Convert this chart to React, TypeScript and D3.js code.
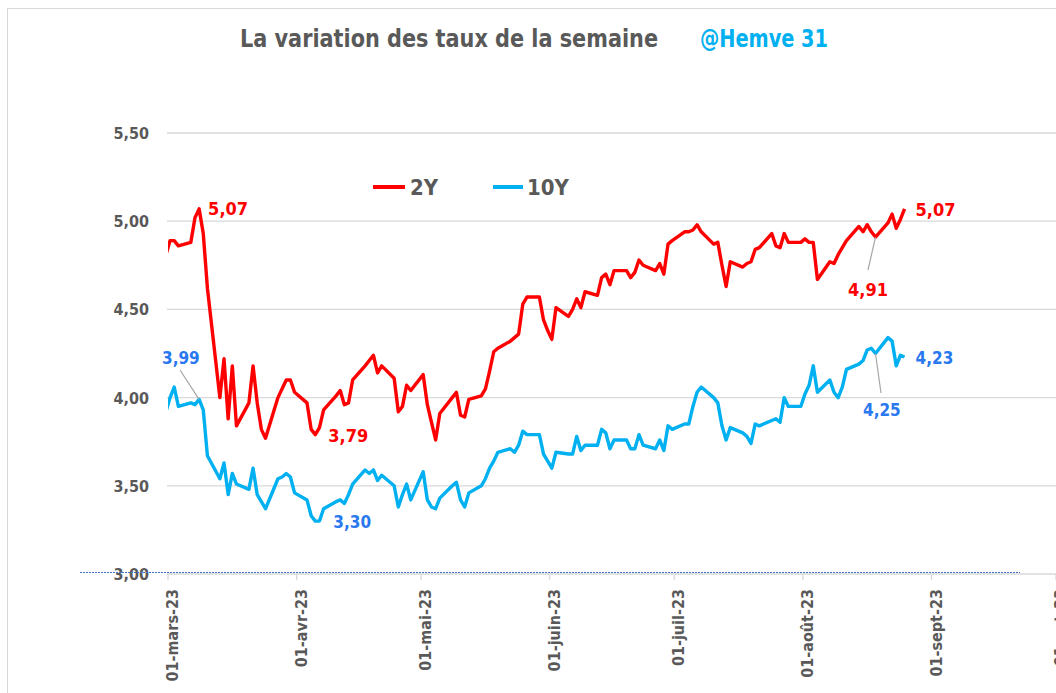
import * as d3 from 'd3';

// business days plotted (holidays kept, value carried over)
const febDays = [28];
const marDays = [1, 2, 3, 6, 7, 8, 9, 10, 13, 14, 15, 16, 17, 20, 21, 22, 23, 24, 27, 28, 29, 30, 31];
const aprDays = [3, 4, 5, 6, 7, 10, 11, 12, 13, 14, 17, 18, 19, 20, 21, 24, 25, 26, 27, 28];
const mayDays = [1, 2, 3, 4, 5, 8, 9, 10, 11, 12, 15, 16, 17, 18, 19, 22, 23, 24, 25, 26, 29, 30, 31];
const junDays = [1, 2, 5, 6, 7, 8, 9, 12, 13, 14, 15, 16, 19, 20, 21, 22, 23, 26, 27, 28, 29, 30];
const julDays = [3, 4, 5, 6, 7, 10, 11, 12, 13, 14, 17, 18, 19, 20, 21, 24, 25, 26, 27, 28, 31];
const augDays = [1, 2, 3, 4, 7, 8, 9, 10, 11, 14, 15, 16, 17, 18, 21, 22, 23, 24, 25];

// 2Y yields
const y2Feb = [4.81];
const y2Mar = [4.89, 4.89, 4.86, 4.88, 5.02, 5.07, 4.93, 4.62, 4.0, 4.22, 3.88, 4.18, 3.84, 3.97, 4.18, 3.97, 3.82, 3.77, 4.0, 4.05, 4.1, 4.1, 4.03];
const y2Apr = [3.97, 3.82, 3.79, 3.83, 3.93, 4.01, 4.04, 3.96, 3.97, 4.1, 4.18, 4.21, 4.24, 4.14, 4.18, 4.11, 3.92, 3.95, 4.07, 4.04];
const y2May = [4.13, 3.96, 3.86, 3.76, 3.91, 4.0, 4.03, 3.9, 3.89, 3.99, 4.01, 4.05, 4.15, 4.26, 4.28, 4.32, 4.34, 4.36, 4.53, 4.57, 4.57, 4.44, 4.38];
const y2Jun = [4.33, 4.51, 4.46, 4.5, 4.56, 4.51, 4.6, 4.58, 4.68, 4.7, 4.64, 4.72, 4.72, 4.68, 4.71, 4.78, 4.75, 4.72, 4.76, 4.7, 4.87, 4.89];
const y2Jul = [4.94, 4.94, 4.95, 4.98, 4.94, 4.87, 4.88, 4.75, 4.63, 4.77, 4.74, 4.76, 4.77, 4.84, 4.85, 4.93, 4.86, 4.85, 4.93, 4.88, 4.88];
const y2Aug = [4.9, 4.88, 4.88, 4.67, 4.77, 4.76, 4.81, 4.85, 4.89, 4.97, 4.94, 4.98, 4.94, 4.91, 4.99, 5.04, 4.96, 5.01, 5.07];

// 10Y yields
const y10Feb = [3.92];
const y10Mar = [4.0, 4.06, 3.95, 3.97, 3.96, 3.99, 3.93, 3.67, 3.54, 3.63, 3.45, 3.57, 3.51, 3.48, 3.6, 3.45, 3.41, 3.37, 3.54, 3.55, 3.57, 3.55, 3.46];
const y10Apr = [3.42, 3.33, 3.3, 3.3, 3.37, 3.41, 3.42, 3.4, 3.45, 3.51, 3.59, 3.57, 3.59, 3.53, 3.56, 3.5, 3.38, 3.45, 3.51, 3.42];
const y10May = [3.58, 3.42, 3.38, 3.37, 3.43, 3.5, 3.52, 3.42, 3.38, 3.46, 3.5, 3.54, 3.6, 3.64, 3.69, 3.71, 3.69, 3.73, 3.81, 3.79, 3.79, 3.68, 3.64];
const y10Jun = [3.6, 3.69, 3.68, 3.68, 3.78, 3.7, 3.73, 3.73, 3.82, 3.8, 3.71, 3.76, 3.76, 3.71, 3.71, 3.79, 3.73, 3.71, 3.76, 3.7, 3.84, 3.82];
const y10Jul = [3.85, 3.85, 3.95, 4.03, 4.06, 4.0, 3.97, 3.84, 3.76, 3.83, 3.8, 3.78, 3.74, 3.85, 3.84, 3.87, 3.88, 3.86, 4.0, 3.95, 3.95];
const y10Aug = [4.02, 4.07, 4.18, 4.03, 4.1, 4.03, 4.0, 4.06, 4.16, 4.19, 4.21, 4.27, 4.28, 4.25, 4.34, 4.32, 4.18, 4.24, 4.23];

const yTicks = [3.0, 3.5, 4.0, 4.5, 5.0, 5.5];
const monthTicks = ['01-mars-23', '01-avr-23', '01-mai-23', '01-juin-23', '01-juil-23', '01-août-23', '01-sept-23', '01-oct-23'];

// annotated values
const labels2Y = [
  { month: 2, day: 8, text: '5,07', dx: 9, dy: 6 },
  { month: 3, day: 5, text: '3,79', dx: 13, dy: 7 },
  { month: 7, day: 25, text: '5,07', dx: 11, dy: 7 },
];
const labels10Y = [
  { month: 3, day: 5, text: '3,30', dx: 18, dy: 7 },
  { month: 7, day: 25, text: '4,23', dx: 11, dy: 7 },
];
const leaderLabels = [
  { series: '10Y', month: 2, day: 8, text: '3,99', lx: 162, ly: 364, x1: 180, y1: 370 },
  { series: '2Y', month: 7, day: 18, text: '4,91', lx: 848, ly: 296, x1: 868, y1: 270 },
  { series: '10Y', month: 7, day: 18, text: '4,25', lx: 863, ly: 416, x1: 881, y1: 393 },
];

const dayGroups: [number, number[], number[], number[]][] = [
  [1, febDays, y2Feb, y10Feb],
  [2, marDays, y2Mar, y10Mar],
  [3, aprDays, y2Apr, y10Apr],
  [4, mayDays, y2May, y10May],
  [5, junDays, y2Jun, y10Jun],
  [6, julDays, y2Jul, y10Jul],
  [7, augDays, y2Aug, y10Aug],
];

type Pt = { date: Date; v2: number; v10: number };
const rows: Pt[] = [];
dayGroups.forEach(([m, days, a, b]) => {
  days.forEach((d, i) => rows.push({ date: new Date(Date.UTC(2023, m, d, 12)), v2: a[i], v10: b[i] }));
});

const RED = '#FF0000';
const CYAN = '#00B0F0';
const LBLUE = '#2A78F0';
const GREY = '#595959';
const FONT = "'Liberation Sans Narrow', 'DejaVu Sans Condensed', Roboto, sans-serif";

export default function App() {
  const width = 1056;
  const height = 693;

  const x = d3.scaleUtc()
    .domain([new Date(Date.UTC(2023, 2, 1)), new Date(Date.UTC(2023, 9, 1))])
    .range([168, 1056]);
  const y = d3.scaleLinear().domain([3, 5.5]).range([574, 133]);

  const line2 = d3.line<Pt>().x(d => x(d.date)).y(d => y(d.v2));
  const line10 = d3.line<Pt>().x(d => x(d.date)).y(d => y(d.v10));

  const months = d3.utcMonth.range(new Date(Date.UTC(2023, 2, 1)), new Date(Date.UTC(2023, 9, 2)));
  const at = (m: number, d: number) => x(new Date(Date.UTC(2023, m, d, 12)));
  const valueAt = (m: number, d: number, key: 'v2' | 'v10') => {
    const r = rows.find(p => p.date.getUTCMonth() === m && p.date.getUTCDate() === d);
    return r ? r[key] : 0;
  };

  return (
    <svg width={width} height={height} style={{ position: 'absolute', left: 0, top: 0, background: '#fff' }}
      fontFamily={FONT}>
      <defs>
        <clipPath id="plot">
          <rect x={168} y={100} width={890} height={480} />
        </clipPath>
      </defs>
      <rect x={7.5} y={8.5} width={1100} height={720} fill="#fff" stroke="#d9d9d9" />

      {/* title */}
      <text x={240} y={47} fontSize={24} fontWeight="bold" fill={GREY} textLength={418} lengthAdjust="spacingAndGlyphs">
        La variation des taux de la semaine
      </text>
      <text x={700} y={47} fontSize={24} fontWeight="bold" fill={CYAN} textLength={128} lengthAdjust="spacingAndGlyphs">
        @Hemve 31
      </text>

      {/* grid + y labels */}
      {yTicks.map(t => (
        <g key={t}>
          {t > 3 && <line x1={167} x2={1056} y1={y(t)} y2={y(t)} stroke="#d9d9d9" strokeWidth={1.3} />}
          <text x={149} y={y(t) + 6} textAnchor="end" fontSize={16} fontWeight="bold" fill={GREY}>
            {d3.format('.2f')(t).replace('.', ',')}
          </text>
        </g>
      ))}

      {/* x axis */}
      <line x1={167} x2={1056} y1={574} y2={574} stroke="#d9d9d9" strokeWidth={1.3} />
      {months.map((m, i) => (
        <g key={i} transform={`translate(${x(m)},574)`}>
          <line y1={0} y2={6} stroke="#d9d9d9" strokeWidth={1.3} />
          <text transform="rotate(-90)" x={-15} y={10} textAnchor="end" fontSize={16} fontWeight="bold" fill={GREY}>
            {monthTicks[i]}
          </text>
        </g>
      ))}
      <line x1={80} x2={1020} y1={572.5} y2={572.5} stroke="#4472C4" strokeWidth={1} strokeDasharray="2,1" />

      {/* series */}
      <g clipPath="url(#plot)">
        <path d={line2(rows) || ''} fill="none" stroke={RED} strokeWidth={3.4} strokeLinejoin="round" />
        <path d={line10(rows) || ''} fill="none" stroke={CYAN} strokeWidth={3.4} strokeLinejoin="round" />
      </g>

      {/* legend */}
      <line x1={373} x2={405} y1={187} y2={187} stroke={RED} strokeWidth={4} />
      <text x={410} y={195} fontSize={22} fontWeight="bold" fill={GREY}>2Y</text>
      <line x1={493} x2={523} y1={187} y2={187} stroke={CYAN} strokeWidth={4} />
      <text x={527} y={195} fontSize={22} fontWeight="bold" fill={GREY}>10Y</text>

      {/* value labels */}
      {labels2Y.map((l, i) => (
        <text key={'a' + i} x={at(l.month, l.day) + l.dx} y={y(valueAt(l.month, l.day, 'v2')) + l.dy}
          fontSize={18} fontWeight="bold" fill={RED}>{l.text}</text>
      ))}
      {labels10Y.map((l, i) => (
        <text key={'b' + i} x={at(l.month, l.day) + l.dx} y={y(valueAt(l.month, l.day, 'v10')) + l.dy}
          fontSize={17} fontWeight="bold" fill={LBLUE}>{l.text}</text>
      ))}
      {leaderLabels.map((l, i) => {
        const px = at(l.month, l.day);
        const py = y(valueAt(l.month, l.day, l.series === '2Y' ? 'v2' : 'v10'));
        return (
          <g key={'c' + i}>
            <line x1={l.x1} y1={l.y1} x2={px} y2={py} stroke="#a6a6a6" strokeWidth={1.2} />
            <text x={l.lx} y={l.ly} fontSize={l.series === '2Y' ? 18 : 17} fontWeight="bold"
              fill={l.series === '2Y' ? RED : LBLUE}>{l.text}</text>
          </g>
        );
      })}
    </svg>
  );
}
